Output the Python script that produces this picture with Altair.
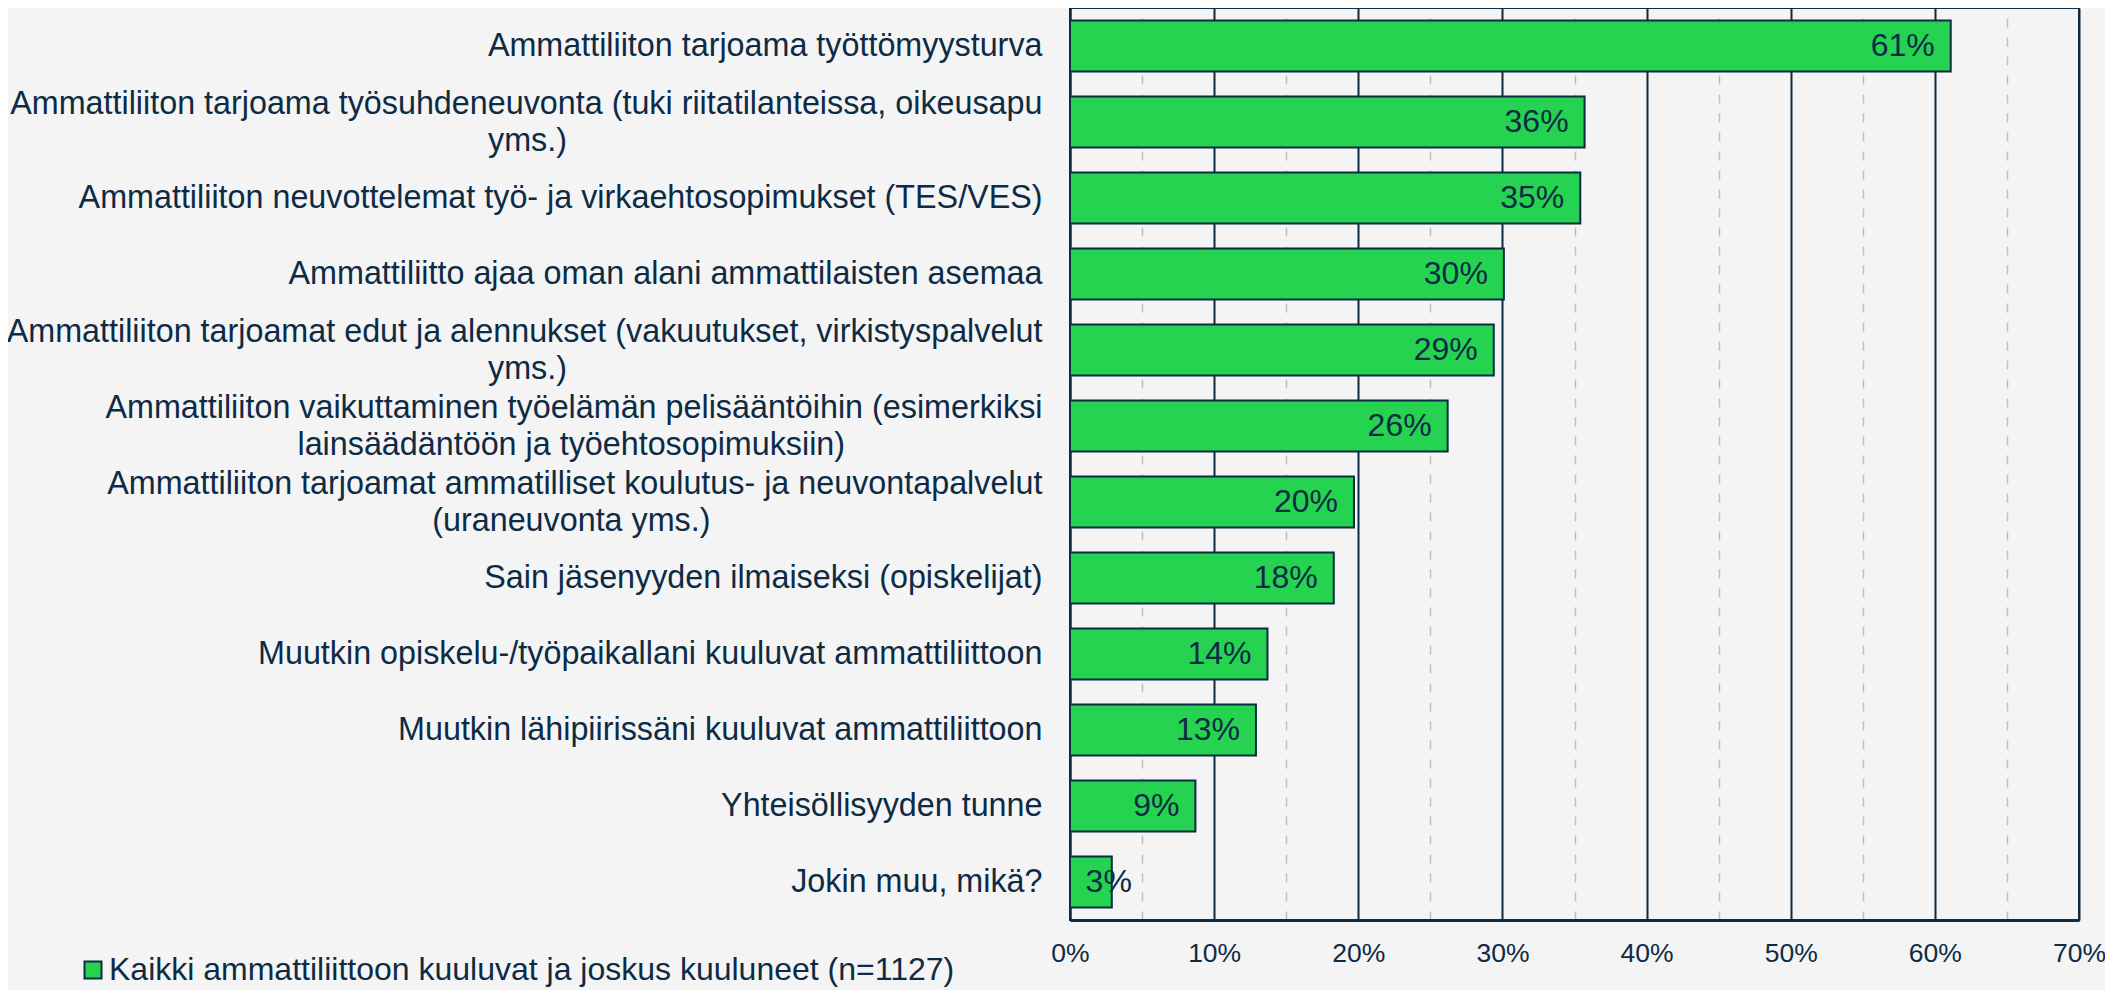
import altair as alt
import pandas as pd

# ---- data ----
categories = [
    "Ammattiliiton tarjoama työttömyysturva",
    "Ammattiliiton tarjoama työsuhdeneuvonta (tuki riitatilanteissa, oikeusapu|yms.)",
    "Ammattiliiton neuvottelemat työ- ja virkaehtosopimukset (TES/VES)",
    "Ammattiliitto ajaa oman alani ammattilaisten asemaa",
    "Ammattiliiton tarjoamat edut ja alennukset (vakuutukset, virkistyspalvelut|yms.)",
    "Ammattiliiton vaikuttaminen työelämän pelisääntöihin (esimerkiksi|lainsäädäntöön ja työehtosopimuksiin)",
    "Ammattiliiton tarjoamat ammatilliset koulutus- ja neuvontapalvelut|(uraneuvonta yms.)",
    "Sain jäsenyyden ilmaiseksi (opiskelijat)",
    "Muutkin opiskelu-/työpaikallani kuuluvat ammattiliittoon",
    "Muutkin lähipiirissäni kuuluvat ammattiliittoon",
    "Yhteisöllisyyden tunne",
    "Jokin muu, mikä?",
]
values = [61.1, 35.7, 35.4, 30.1, 29.4, 26.2, 19.7, 18.3, 13.7, 12.9, 8.7, 2.9]
series_name = "Kaikki ammattiliittoon kuuluvat ja joskus kuuluneet (n=1127)"
x_ticks = list(range(0, 75, 5))

# ---- style ----
NAVY = "#0d2b45"
GREEN = "#25d350"
GRAY = "#bfbfbf"
BG = "#f4f4f4"
FONT = "Liberation Sans"
LINE_H = 37

# Arial/Liberation Sans advance widths (1/1000 em) to centre wrapped lines
W = {c: 556 for c in "abdeghnopqu0123456789äö?"}
W.update({"c": 500, "f": 278, "i": 222, "j": 222, "k": 500, "l": 222, "m": 833,
          "r": 333, "s": 500, "t": 278, "v": 500, "w": 722, "x": 500, "y": 500,
          "z": 500, "A": 667, "E": 667, "J": 500, "K": 667, "M": 833, "S": 667,
          "T": 611, "V": 667, "Y": 667, "(": 333, ")": 333, " ": 278, ",": 278,
          ".": 278, "-": 333, "/": 278})
NBSP = "\u00a0"
ZWSP = "\u200b"


def tw(s):
    return sum(W.get(c, 556) for c in s)


def centred(label):
    lines = label.split("|")
    wmax = max(tw(l) for l in lines)
    out = []
    for l in lines:
        n = int(round((wmax - tw(l)) / 2 / 278))
        out.append(l + NBSP * n + (ZWSP if n else ""))
    return "|".join(out)


labels = [centred(c) for c in categories]
df = pd.DataFrame({"cat": labels, "value": values, "series": series_name})

y_enc = alt.Y(
    "cat:N",
    sort=labels,
    scale=alt.Scale(paddingInner=0.33, paddingOuter=0.165),
    axis=alt.Axis(
        title=None,
        ticks=False,
        domainColor=NAVY,
        domainWidth=2,
        labelFont=FONT,
        labelFontSize=32.3,
        labelColor=NAVY,
        labelPadding=28,
        labelLimit=1100,
        labelLineHeight=LINE_H,
        labelBaseline="middle",
        labelOffset={"condition": {"test": "indexof(datum.label, '|') >= 0",
                                   "value": -LINE_H / 2}, "value": 0},
        labelExpr="split(datum.label, '|')",
        grid=False,
    ),
)

cond = "datum.value % 10 === 0"
x_axis = alt.Axis(
    title=None,
    values=x_ticks,
    ticks=False,
    domainColor=NAVY,
    domainWidth=3,
    labelFont=FONT,
    labelFontSize=26.5,
    labelColor=NAVY,
    labelPadding=20,
    labelFlush=False,
    labelOverlap=False,
    labelExpr="datum.value % 10 === 0 ? datum.value + '%' : ''",
    grid=True,
    gridColor={"condition": {"test": cond, "value": NAVY}, "value": GRAY},
    gridDash={"condition": {"test": cond, "value": []}, "value": [9, 10]},
    gridWidth={"condition": {"test": cond, "value": 2}, "value": 1.5},
    gridOpacity=1,
)
x_scale = alt.Scale(domain=[0, 70], nice=False)

bars = (
    alt.Chart(df)
    .mark_bar(stroke=NAVY, strokeWidth=2)
    .encode(
        y=y_enc,
        x=alt.X("value:Q", scale=x_scale, axis=x_axis),
        color=alt.Color(
            "series:N",
            scale=alt.Scale(range=[GREEN]),
            legend=alt.Legend(
                title=None,
                orient="none",
                legendX=-993,
                legendY=946,
                padding=0,
                symbolType="square",
                symbolSize=289,
                symbolStrokeColor=NAVY,
                symbolStrokeWidth=2,
                symbolFillColor=GREEN,
                labelFont=FONT,
                labelFontSize=32,
                labelColor=NAVY,
                labelOffset=0,
                labelLimit=1200,
            ),
        ),
    )
)

text = (
    alt.Chart(df)
    .transform_calculate(
        pos="max(datum.value, 5.4)",
        lbl="format(datum.value, '.0f') + '%'",
    )
    .mark_text(align="right", baseline="middle", dx=-16, fontSize=32, font=FONT, color=NAVY)
    .encode(
        y=alt.Y("cat:N", sort=labels),
        x=alt.X("pos:Q", scale=x_scale, axis=x_axis),
        text="lbl:N",
    )
)

chart = (
    alt.layer(bars, text)
    .properties(
        width=1009,
        height=912,
        autosize=alt.AutoSizeParams(type="none"),
        padding={"left": 1062, "top": 0, "right": 26, "bottom": 70},
        background=BG,
    )
    .configure_view(stroke=NAVY, strokeWidth=2)
)

chart.save("out.html", embed_options={"renderer": "svg", "actions": False})
